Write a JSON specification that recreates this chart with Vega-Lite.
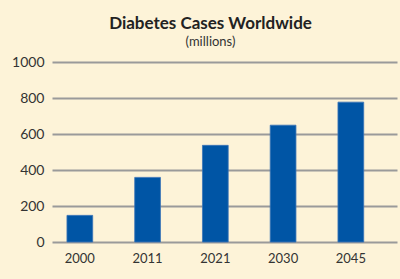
{
  "$schema": "https://vega.github.io/schema/vega-lite/v6.json",
  "width": 345,
  "height": 180,
  "autosize": {"type": "none"},
  "padding": {"left": 52, "top": 62, "right": 3, "bottom": 37},
  "background": "#FDF3D8",
  "title": {
    "text": "Diabetes Cases Worldwide",
    "subtitle": "(millions)",
    "anchor": "middle",
    "dx": -14,
    "font": "Lato",
    "fontSize": 17,
    "fontWeight": "bold",
    "color": "#222222",
    "subtitleFont": "Lato",
    "subtitleFontSize": 13,
    "subtitleColor": "#333333",
    "subtitlePadding": 3,
    "offset": 5
  },
  "data": {
    "values": [
      {"year": "2000", "cases": 148},
      {"year": "2011", "cases": 359},
      {"year": "2021", "cases": 537},
      {"year": "2030", "cases": 649},
      {"year": "2045", "cases": 777}
    ]
  },
  "mark": {"type": "bar", "color": "#0055A5", "stroke": "#3a74b8", "strokeWidth": 0.8},
  "encoding": {
    "x": {
      "field": "year",
      "type": "ordinal",
      "sort": null,
      "scale": {"paddingInner": 0.62, "paddingOuter": 0.356, "align": 0.31},
      "axis": {
        "title": null,
        "labelAngle": 0,
        "domain": false,
        "ticks": false,
        "labelFont": "Lato",
        "labelFontSize": 13,
        "labelColor": "#333333",
        "labelPadding": 10
      }
    },
    "y": {
      "field": "cases",
      "type": "quantitative",
      "scale": {"domain": [0, 1000]},
      "axis": {
        "title": null,
        "values": [0, 200, 400, 600, 800, 1000],
        "format": "d",
        "domain": false,
        "ticks": false,
        "grid": true,
        "gridColor": "#9a9a9a",
        "gridWidth": 2,
        "gridOpacity": 1,
        "labelFont": "Lato",
        "labelFontSize": 14,
        "labelColor": "#333333",
        "labelPadding": 8
      }
    }
  },
  "config": {"view": {"stroke": null}}
}
